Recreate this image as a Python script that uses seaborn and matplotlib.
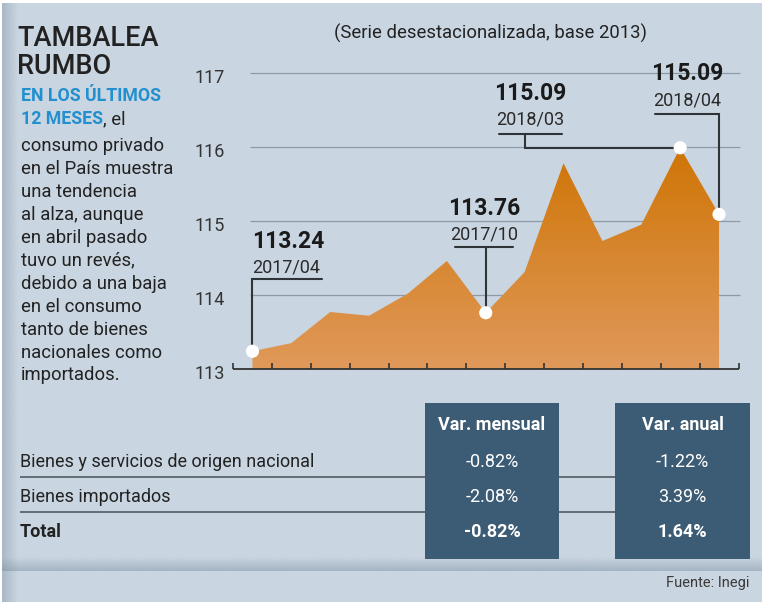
import numpy as np
import matplotlib
matplotlib.use("Agg")
import matplotlib.pyplot as plt
import seaborn as sns
from matplotlib.patches import Rectangle
from matplotlib.colors import LinearSegmentedColormap, to_rgb
from matplotlib.transforms import ScaledTranslation

# ---------------- data ----------------
months = ["2017/04", "2017/05", "2017/06", "2017/07", "2017/08", "2017/09", "2017/10",
          "2017/11", "2017/12", "2018/01", "2018/02", "2018/03", "2018/04"]
values = [113.24, 113.35, 113.77, 113.72, 114.02, 114.46, 113.76,
          114.31, 115.78, 114.73, 114.95, 115.99, 115.09]
yticks = [113, 114, 115, 116, 117]
ann_idx = [0, 6, 11, 12]
ann_value_text = ["113.24", "113.76", "115.09", "115.09"]
ann_date_text = ["2017/04", "2017/10", "2018/03", "2018/04"]

headline = ["TAMBALEA", "RUMBO"]
lead_blue = ["EN LOS ÚLTIMOS", "12 MESES"]
lead_rest = ", el"
body_lines = ["consumo privado", "en el País muestra", "una tendencia", "al alza, aunque",
              "en abril pasado", "tuvo un revés,", "debido a una baja", "en el consumo",
              "tanto de bienes", "nacionales como", "importados."]
subtitle = "(Serie desestacionalizada, base 2013)"
table_rows = ["Bienes y servicios de origen nacional", "Bienes importados", "Total"]
col_headers = ["Var. mensual", "Var. anual"]
var_mensual = ["-0.82%", "-2.08%", "-0.82%"]
var_anual = ["-1.22%", "3.39%", "1.64%"]
source = "Fuente: Inegi"

# ---------------- style ----------------
sns.set_theme(style="white")
plt.rcParams["font.family"] = ["Roboto", "DejaVu Sans"]

W, H = 768, 608
BG = "#c9d5e0"
DARK = "#222222"
BLUE = "#2290cf"
BOX = "#3c5b74"

fig = plt.figure(figsize=(W / 100, H / 100), dpi=100)
fig.patch.set_facecolor("white")

# background axes in pixel coordinates (y downward)
bg = fig.add_axes([0, 0, 1, 1])
bg.set_xlim(0, W)
bg.set_ylim(H, 0)
bg.axis("off")
bg.add_patch(Rectangle((2, 3), 760, 599, color=BG, lw=0, zorder=0))


def shade(ax, extent, a0, a1, horizontal, color="#6f8396"):
    n = 64
    ramp = np.linspace(a0, a1, n)
    rgba = np.zeros((1, n, 4) if horizontal else (n, 1, 4))
    r, g, b = to_rgb(color)
    rgba[..., 0], rgba[..., 1], rgba[..., 2] = r, g, b
    if horizontal:
        rgba[0, :, 3] = ramp
    else:
        rgba[:, 0, 3] = ramp
    ax.imshow(rgba, extent=extent, aspect="auto", zorder=1, interpolation="bilinear")


# left edge shadow, footer shadow
shade(bg, [2, 18, 602, 3], 0.35, 0.0, True)
shade(bg, [2, 762, 557, 571], 0.4, 0.0, False)
bg.set_xlim(0, W)
bg.set_ylim(H, 0)

# ---------------- left text ----------------
bg.text(17, 38.5, headline[0], fontsize=19.5, fontweight="medium", color=DARK, va="center")
bg.text(17, 66, headline[1], fontsize=19.5, fontweight="medium", color=DARK, va="center")
bg.text(21, 96, lead_blue[0], fontsize=12.8, fontweight="bold", color=BLUE, va="center")
t12 = bg.text(21, 119, lead_blue[1], fontsize=12.8, fontweight="bold", color=BLUE, va="center")
fig.canvas.draw()
bb = t12.get_window_extent(fig.canvas.get_renderer())
x_end = bg.transData.inverted().transform((bb.x1, bb.y0))[0]
bg.text(x_end, 119, lead_rest, fontsize=13.3, color=DARK, va="center")
for k, line in enumerate(body_lines):
    bg.text(21, 146 + 22.95 * k, line, fontsize=13.3, color=DARK, va="center")

# subtitle
bg.text(491, 33, subtitle, fontsize=13.3, color=DARK, va="center", ha="center")

# ---------------- table ----------------
bg.hlines([477, 512], 20, 750, color="#5d646b", lw=1.3, zorder=2)
bg.add_patch(Rectangle((425, 403), 134, 156, color=BOX, lw=0, zorder=3))
bg.add_patch(Rectangle((615, 403), 135, 156, color=BOX, lw=0, zorder=3))
col_x = [492, 682.5]
row_y = [462, 497, 532]
for cx, hdr in zip(col_x, col_headers):
    bg.text(cx, 425, hdr, fontsize=13, fontweight="bold", color="white",
            ha="center", va="center", zorder=4)
for k, (lab, vm, va_) in enumerate(zip(table_rows, var_mensual, var_anual)):
    w = "bold" if k == len(table_rows) - 1 else "normal"
    bg.text(20, row_y[k], lab, fontsize=13, fontweight=w, color=DARK, va="center", zorder=4)
    bg.text(col_x[0], row_y[k], vm, fontsize=13, fontweight=w, color="white",
            ha="center", va="center", zorder=4)
    bg.text(col_x[1], row_y[k], va_, fontsize=13, fontweight=w, color="white",
            ha="center", va="center", zorder=4)

bg.text(750, 583, source, fontsize=10.5, color="#3a3a3a", ha="right", va="center")

# ---------------- chart ----------------
ax_left, ax_right, ax_bottom_px, ax_h = 233, 738.5, 369, 333
ax = fig.add_axes([ax_left / W, 1 - ax_bottom_px / H, (ax_right - ax_left) / W, ax_h / H])
ax.patch.set_alpha(0)
x = np.arange(len(values))
XMIN, XMAX, YMIN, YMAX = -0.5, len(values) - 0.5, 113, 117.5
px_x = (ax_right - ax_left) / (XMAX - XMIN)
px_y = ax_h / (YMAX - YMIN)

# gridlines
ax.hlines(yticks[1:], XMIN + 17 / px_x, XMAX + 1.5 / px_x, color="#8e9aa6", lw=0.9, zorder=1,
          clip_on=False)

# gradient area
poly = ax.fill_between(x, values, YMIN, color="none", lw=0)
grad = np.linspace(0, 1, 256).reshape(-1, 1)
cmap = LinearSegmentedColormap.from_list("g", ["#e0995a", "#cf7506"])
im = ax.imshow(grad, extent=[XMIN, XMAX, YMIN, max(values)], origin="lower", cmap=cmap,
               aspect="auto", zorder=2)
im.set_clip_path(poly.get_paths()[0], transform=ax.transData)

# baseline with upward ticks
ax.hlines(YMIN, XMIN, XMAX, color="#333333", lw=1.3, zorder=3, clip_on=False)
ax.vlines(np.arange(XMIN, XMAX + 0.01, 1), YMIN, YMIN + 6 / px_y, color="#333333", lw=1.2,
          zorder=3, clip_on=False)

ax.set_xlim(XMIN, XMAX)
ax.set_ylim(YMIN, YMAX)
for s in ax.spines.values():
    s.set_visible(False)
ax.set_xticks([])
ax.set_yticks(yticks)
ax.set_yticklabels([str(v) for v in yticks])
ax.tick_params(axis="y", length=0, pad=6, labelsize=13, labelcolor="#333333")
for lbl in ax.get_yticklabels():
    lbl.set_transform(lbl.get_transform() + ScaledTranslation(0, -3 / 100, fig.dpi_scale_trans))


def P(i, dx, dy):
    return i + dx / px_x, values[i] - dy / px_y


leader_paths = {
    0: [[(0, 0), (0, -72), (70, -72)]],
    6: [[(0, 0), (0, -66)], [(-31, -66), (27, -66)]],
    11: [[(0, 0), (-155, 0), (-155, -14)], [(-181, -14), (-118, -14)]],
    12: [[(0, 0), (0, -100), (-64, -100)]],
}
text_pos = {0: (0, -110, -84, "left"), 6: (-2, -104, -78, "center"),
            11: (-150, -54, -28, "center"), 12: (-32, -141, -114, "center")}

for i, vt, dt in zip(ann_idx, ann_value_text, ann_date_text):
    for path in leader_paths[i]:
        pts = [P(i, dx, dy) for dx, dy in path]
        ax.plot([p[0] for p in pts], [p[1] for p in pts], color="#2f3438", lw=1.5,
                zorder=4, clip_on=False, solid_joinstyle="miter")
    dx, dyv, dyd, ha = text_pos[i]
    xv, yv = P(i, dx, dyv)
    ax.text(xv, yv, vt, fontsize=16.5, fontweight="bold", color="#1a1a1a", ha=ha,
            va="center", zorder=5, clip_on=False)
    xd, yd = P(i, dx, dyd)
    ax.text(xd, yd, dt, fontsize=13, color="#2a2a2a", ha=ha, va="center", zorder=5,
            clip_on=False)

sns.scatterplot(x=[x[i] for i in ann_idx], y=[values[i] for i in ann_idx], s=90,
                color="white", edgecolor="none", zorder=6, ax=ax, clip_on=False, legend=False)
ax.set_xlim(XMIN, XMAX)
ax.set_ylim(YMIN, YMAX)
ax.set_xlabel("")
ax.set_ylabel("")

fig.savefig("out.png", dpi=100, facecolor="white")
